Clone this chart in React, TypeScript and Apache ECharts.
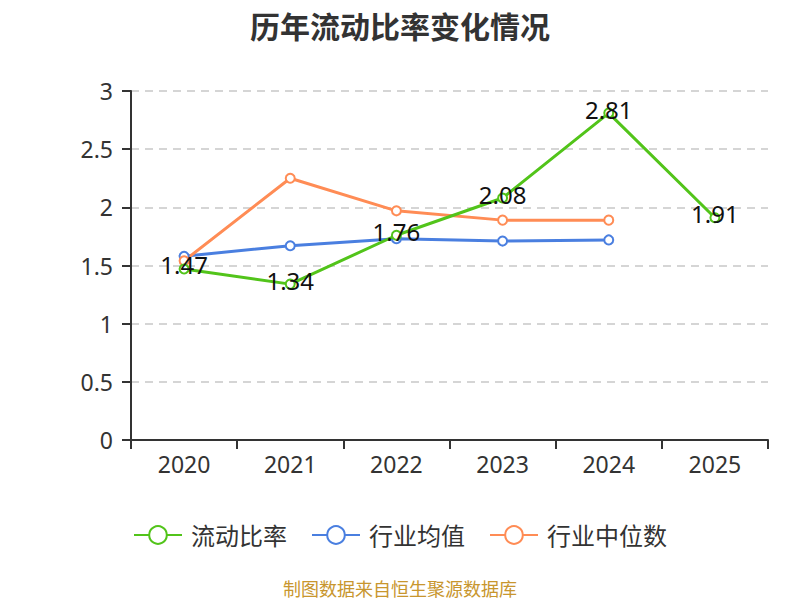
import React, { useEffect, useRef } from "react";
import * as echarts from "echarts";

const years = ["2020", "2021", "2022", "2023", "2024", "2025"];
const currentRatio = [1.47, 1.34, 1.76, 2.08, 2.81, 1.91];
const industryMean = [1.58, 1.67, 1.73, 1.71, 1.72];
const industryMedian = [1.54, 2.25, 1.97, 1.89, 1.89];
const seriesNames = ["流动比率", "行业均值", "行业中位数"];
const colors = ["#52c41a", "#4a7fe0", "#ff8c55"];

export default function App() {
  const ref = useRef<HTMLDivElement>(null);
  useEffect(() => {
    const chart = echarts.init(ref.current!, null, { renderer: "svg" });
    const font = "'Noto Sans', 'Noto Sans CJK SC', sans-serif";
    chart.setOption({
      animation: false,
      textStyle: { fontFamily: font },
      title: {
        text: "历年流动比率变化情况",
        left: "center",
        top: 6,
        textStyle: { fontSize: 30, fontWeight: "bold", color: "#333", fontFamily: font },
      },
      legend: {
        top: 518,
        left: "center",
        itemWidth: 48,
        itemHeight: 22,
        itemGap: 24,
        textStyle: { fontSize: 24, color: "#333", fontFamily: font, padding: [0, 0, 0, 4] },
        data: seriesNames,
      },
      graphic: [
        {
          type: "text",
          left: "center",
          top: 580,
          style: { text: "制图数据来自恒生聚源数据库", fill: "#c8962e", fontSize: 18, fontFamily: font },
        },
      ],
      grid: { left: 131, right: 32, top: 91, bottom: 160 },
      xAxis: {
        type: "category",
        data: years,
        boundaryGap: true,
        axisLine: { lineStyle: { color: "#333", width: 2 } },
        axisTick: { show: true, length: 9, lineStyle: { color: "#333", width: 2 } },
        axisLabel: { fontSize: 23, color: "#333", margin: 12 },
      },
      yAxis: {
        type: "value",
        min: 0,
        max: 3,
        interval: 0.5,
        axisLine: { show: true, lineStyle: { color: "#333", width: 2 } },
        axisTick: { show: true, length: 9, lineStyle: { color: "#333", width: 2 } },
        axisLabel: { fontSize: 23, color: "#333", margin: 18 },
        splitLine: { lineStyle: { type: [8, 6], color: "#c8c8c8", width: 1.5 } },
      },
      series: [
        {
          name: seriesNames[0],
          type: "line",
          data: currentRatio,
          symbol: "emptyCircle",
          symbolSize: 9,
          lineStyle: { width: 3, color: colors[0] },
          itemStyle: { color: colors[0], borderWidth: 2 },
          label: { show: true, position: "inside", fontSize: 24, color: "#111", offset: [0, -4] },
          z: 3,
        },
        {
          name: seriesNames[1],
          type: "line",
          data: industryMean,
          symbol: "emptyCircle",
          symbolSize: 9,
          lineStyle: { width: 3, color: colors[1] },
          itemStyle: { color: colors[1], borderWidth: 2 },
          z: 2,
        },
        {
          name: seriesNames[2],
          type: "line",
          data: industryMedian,
          symbol: "emptyCircle",
          symbolSize: 9,
          lineStyle: { width: 3, color: colors[2] },
          itemStyle: { color: colors[2], borderWidth: 2 },
          z: 2,
        },
      ],
    });
    return () => chart.dispose();
  }, []);
  return (
    <div
      ref={ref}
      style={{ position: "absolute", left: 0, top: 0, width: 800, height: 600 }}
    />
  );
}
